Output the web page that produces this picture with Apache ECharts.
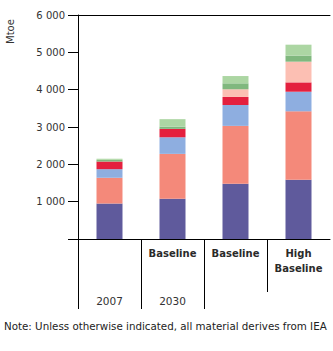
<!DOCTYPE html>
<html>
<head>
<meta charset="utf-8">
<script src="https://cdn.jsdelivr.net/npm/echarts@6/dist/echarts.min.js"></script>
<style>
html,body{margin:0;padding:0;background:#fff;}
#chart{width:333px;height:351px;}
</style>
</head>
<body>
<div id="chart"></div>
<script>
// ---- data ----
const scenarioLabels = ["", "Baseline", "Baseline", "High\nBaseline"];
const yearLabels = ["2007", "2030", "", ""];
const seriesNames = ["s1", "s2", "s3", "s4", "s5", "s6", "s7"];
const purple     = [950, 1080, 1480, 1590];
const salmon     = [690, 1200, 1550, 1830];
const blue       = [230, 445, 560, 525];
const red        = [205, 225, 215, 250];
const pink       = [0, 0, 205, 555];
const darkGreen  = [45, 60, 160, 160];
const lightGreen = [30, 200, 195, 295];
const yMin = 0, yMax = 6000, yStep = 1000;
const yAxisName = "Mtoe";
const footnote = "Note: Unless otherwise indicated, all material derives from IEA";

const colors = ["#5f5a9c", "#f4897a", "#8eaee0", "#e4203e", "#fcbfb3", "#80b87e", "#acd6a3"];
const values = [purple, salmon, blue, red, pink, darkGreen, lightGreen];
const cats = [0, 1, 2, 3].map(String);
const FONT = "DejaVu Sans";

const chart = echarts.init(document.getElementById('chart'), null, {renderer: 'svg'});

const series = values.map((v, i) => ({
  name: seriesNames[i],
  type: 'bar',
  stack: 'total',
  barWidth: 26,
  data: v,
  itemStyle: {color: colors[i]},
  emphasis: {disabled: true},
  animation: false
}));

chart.setOption({
  animation: false,
  backgroundColor: '#fff',
  grid: {left: 78, right: 3, top: 15, bottom: 112, containLabel: false},
  xAxis: [
    {
      type: 'category', data: cats, position: 'bottom',
      axisLine: {show: true, lineStyle: {color: '#000', width: 1}},
      axisTick: {show: false},
      axisLabel: {
        margin: 7, fontFamily: FONT, fontSize: 10, fontWeight: 'bold', color: '#2a2a2a', lineHeight: 15,
        formatter: (v, i) => scenarioLabels[i]
      }
    },
    {
      type: 'category', data: cats, position: 'bottom', offset: 0,
      axisLine: {show: false}, axisTick: {show: false},
      axisLabel: {
        margin: 56, fontFamily: FONT, fontSize: 10.5, color: '#333',
        formatter: (v, i) => yearLabels[i]
      }
    },
    {
      type: 'category', data: cats, position: 'top',
      axisLine: {show: true, lineStyle: {color: '#000', width: 1}},
      axisTick: {show: false}, axisLabel: {show: false}
    }
  ],
  yAxis: {
    type: 'value', min: yMin, max: yMax, interval: yStep,
    axisLine: {show: true, lineStyle: {color: '#000', width: 1}},
    axisTick: {show: true, inside: false, length: 10, lineStyle: {color: '#000'}},
    axisLabel: {
      margin: 13, fontFamily: FONT, fontSize: 10, color: '#333',
      formatter: v => v === 0 ? '' : String(v).replace(/\B(?=(\d{3})+(?!\d))/g, ' ')
    },
    splitLine: {show: false}
  },
  series: series
});

// separators under the category axis, computed from the axis scale
const px = i => chart.convertToPixel({xAxisIndex: 0}, String(i));
const band = px(1) - px(0);
const y0 = chart.convertToPixel({yAxisIndex: 0}, 0);
const sepLen = [70, 70, 70, 53];
const graphics = [];
for (let i = 0; i < 4; i++) {
  const x = Math.round(px(i) - band / 2) + 0.5;
  graphics.push({type: 'line', shape: {x1: x, y1: y0, x2: x, y2: y0 + sepLen[i]}, style: {stroke: '#000', lineWidth: 1}, silent: true});
}
graphics.push({
  type: 'text', x: 10, y: 44, rotation: Math.PI / 2,
  style: {text: yAxisName, font: '10px ' + FONT, fill: '#333', textAlign: 'left', textVerticalAlign: 'middle'}
});
graphics.push({
  type: 'text', left: 4, top: 321,
  style: {text: footnote, font: '10.3px ' + FONT, fill: '#222'}
});
chart.setOption({graphic: graphics});
</script>
</body>
</html>
